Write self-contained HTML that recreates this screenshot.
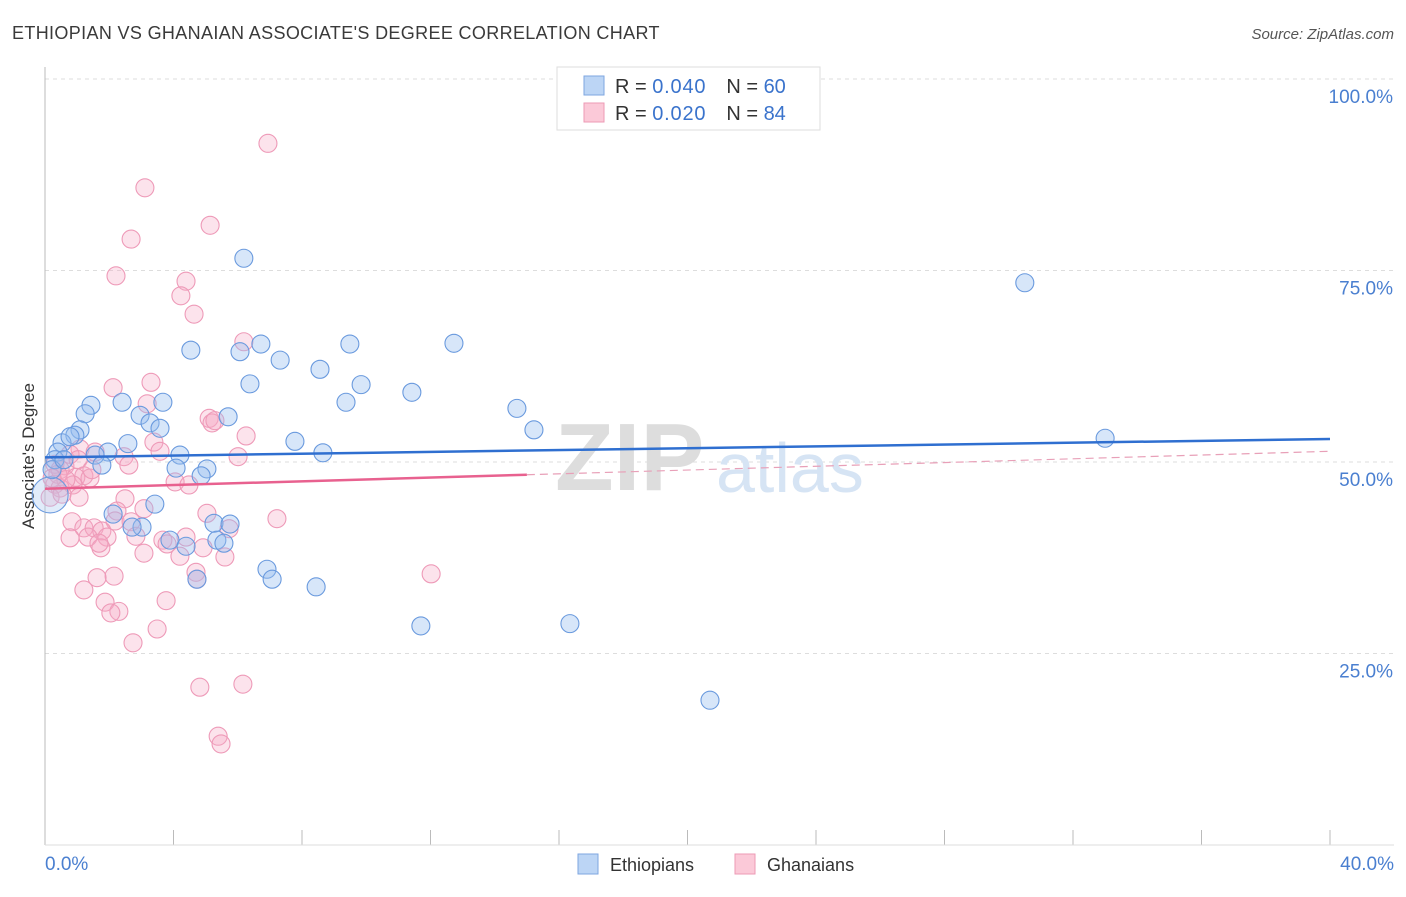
<!DOCTYPE html>
<html><head><meta charset="utf-8"><style>
body{margin:0;background:#fff;font-family:"Liberation Sans",sans-serif;}
svg text{font-family:"Liberation Sans",sans-serif;}
</style></head><body>
<svg id="chart" width="1406" height="892" viewBox="0 0 1406 892" xmlns="http://www.w3.org/2000/svg">
<text x="12" y="39" font-size="18" fill="#3a3a3a" letter-spacing="0.35">ETHIOPIAN VS GHANAIAN ASSOCIATE'S DEGREE CORRELATION CHART</text>
<text x="1394" y="39" font-size="15" fill="#555" font-style="italic" text-anchor="end">Source: ZipAtlas.com</text>
<g id="grid"></g>
<g>
<text x="555" y="490" font-size="96" font-family="Liberation Serif" fill="#ddd" font-weight="bold">ZIP</text>
<text x="716" y="492" font-size="70" fill="#d6e4f4">atlas</text>
</g>
<line x1="45" y1="67" x2="45" y2="845" stroke="#bbb"/>
<line x1="45" y1="845" x2="1394" y2="845" stroke="#ddd"/>
<text transform="translate(34,456) rotate(-90)" font-size="17" fill="#333" text-anchor="middle">Associate's Degree</text>
<text x="45" y="870" font-size="19" fill="#4a7fd0">0.0%</text>
<text x="1394" y="870" font-size="19" fill="#4a7fd0" text-anchor="end">40.0%</text>
<g id="points"></g>
<g id="trends"></g>
<g>
<rect x="557" y="67" width="263" height="63" fill="#fff" stroke="#ddd"/>
<rect x="584" y="76" width="20" height="19" fill="#bcd5f5" stroke="#7ea6e0"/>
<rect x="584" y="103" width="20" height="19" fill="#fbc9d8" stroke="#ec9ab5"/>
<text x="615" y="93" font-size="20" fill="#333">R = <tspan fill="#3a73cc" letter-spacing="0.8">0.040</tspan><tspan dx="20">N = </tspan><tspan fill="#3a73cc">60</tspan></text>
<text x="615" y="120" font-size="20" fill="#333">R = <tspan fill="#3a73cc" letter-spacing="0.8">0.020</tspan><tspan dx="20">N = </tspan><tspan fill="#3a73cc">84</tspan></text>
</g>
<g>
<rect x="578" y="854" width="20" height="20" fill="#bcd5f5" stroke="#7ea6e0"/>
<text x="610" y="871" font-size="18" fill="#333">Ethiopians</text>
<rect x="735" y="854" width="20" height="20" fill="#fbc9d8" stroke="#ec9ab5"/>
<text x="767" y="871" font-size="18" fill="#333">Ghanaians</text>
</g>
</svg>
<script>
const yTicks=[25,50,75,100];
const yTickLabels=["25.0%","50.0%","75.0%","100.0%"];
const xTicks=[0,4,8,12,16,20,24,28,32,36,40];
const ethX=[30.5,6.19,4.54,6.07,6.72,7.32,9.49,12.73,8.56,6.38,9.84,11.42,9.37,14.69,1.43,2.40,3.67,1.25,2.96,5.70,15.22,3.27,3.58,1.09,0.93,0.53,2.58,7.78,33.0,1.96,1.56,0.40,0.31,8.65,4.20,4.08,5.04,4.86,1.77,3.42,2.12,3.02,2.71,5.26,5.76,3.89,5.35,5.57,4.39,6.91,7.07,8.44,4.73,11.70,16.34,20.70,0.16,0.22,0.78,0.59];
const ethY=[73.4,76.6,64.6,64.4,65.4,63.3,65.4,65.5,62.1,60.2,60.1,59.1,57.8,57.0,57.4,57.8,57.8,56.3,56.1,55.9,54.2,55.1,54.4,54.2,53.5,52.5,52.4,52.7,53.1,51.3,50.9,51.3,50.3,51.2,50.9,49.2,49.1,48.2,49.6,44.5,43.2,41.5,41.5,42.0,41.9,39.8,39.8,39.4,39.0,36.0,34.7,33.7,34.7,28.6,28.9,18.9,45.7,49.0,53.3,50.3];
const ghaX=[6.94,3.11,5.14,2.68,2.21,4.39,4.23,4.64,6.19,2.12,3.30,3.18,5.11,5.20,5.29,3.39,3.58,6.26,1.09,1.56,2.46,2.61,0.62,0.31,0.47,6.01,1.21,0.96,0.87,1.40,0.31,0.47,4.05,4.48,0.16,1.06,0.53,2.49,2.24,5.04,7.22,0.84,2.18,2.68,1.21,1.53,1.77,0.78,1.34,1.93,2.83,3.67,3.80,4.92,1.74,4.20,5.60,3.08,4.70,4.73,2.15,1.62,12.02,1.21,3.77,1.87,2.30,2.05,3.49,2.74,4.82,6.16,5.39,5.48,0.78,0.40,0.65,1.03,1.46,0.22,1.68,3.08,5.73,4.39];
const ghaY=[91.6,85.8,80.9,79.1,74.3,73.6,71.7,69.3,65.7,59.7,60.4,57.6,55.7,55.1,55.4,52.6,51.4,53.4,51.7,51.3,50.7,49.6,49.5,49.7,49.0,50.7,48.2,48.0,47.0,47.9,47.1,46.6,47.4,47.0,45.4,45.4,45.8,45.2,43.6,43.3,42.6,42.2,42.3,42.2,41.4,41.4,41.0,40.1,40.2,40.2,40.3,39.8,39.3,38.8,38.8,37.7,37.6,38.1,35.6,34.7,35.1,34.9,35.4,33.3,31.9,31.7,30.5,30.3,28.2,26.4,20.6,21.0,14.2,13.2,51.0,48.4,47.7,50.3,49.0,47.9,39.4,43.9,41.3,40.2];
const ethTrend=[50.6,53.0];
const ghaTrend=[46.5,51.4];
const ghaSolidEnd=15;
const NS="http://www.w3.org/2000/svg";
const sx=v=>45+v/40*1285;
const sy=v=>845-v/100*766;
function mk(tag,attrs,parent){const e=document.createElementNS(NS,tag);for(const k in attrs)e.setAttribute(k,attrs[k]);parent.appendChild(e);return e;}
const grid=document.getElementById('grid');
yTicks.forEach((t,i)=>{
 const l=mk('line',{x1:45,x2:1394,y1:sy(t),y2:sy(t),stroke:'#ddd','stroke-dasharray':'4,4'},grid);
 
 
 const tx=mk('text',{x:1393,y:sy(t)+24,'font-size':19,fill:'#4a7fd0','text-anchor':'end'},grid);
 tx.textContent=yTickLabels[i];
 
 
});
xTicks.forEach(t=>{
 const l=mk('line',{x1:sx(t),x2:sx(t),y1:830,y2:845,stroke:'#bbb'},grid);
 
 
});
const pts=document.getElementById('points');
ghaX.forEach((x,i)=>{
 const c=mk('circle',{cx:sx(x),cy:sy(ghaY[i]),r:9,fill:'rgba(246,170,196,0.33)',stroke:'#ee9ab8','stroke-width':1.1},pts);
 
 
});
ethX.forEach((x,i)=>{
 const c=mk('circle',{cx:sx(x),cy:sy(ethY[i]),r:i==56?18:9,fill:i==56?'rgba(170,200,240,0.35)':'rgba(150,188,238,0.38)',stroke:'#6a9ade','stroke-width':1.1},pts);
 
 
});
const tr=document.getElementById('trends');
const gAt=x=>ghaTrend[0]+(ghaTrend[1]-ghaTrend[0])*x/40;
let l1=mk('line',{x1:sx(0),y1:sy(ethTrend[0]),x2:sx(40),y2:sy(ethTrend[1]),stroke:'#2f6fd0','stroke-width':2.5},tr);


let l2=mk('line',{x1:sx(0),y1:sy(gAt(0)),x2:sx(ghaSolidEnd),y2:sy(gAt(ghaSolidEnd)),stroke:'#e8618f','stroke-width':2.5},tr);


let l3=mk('line',{x1:sx(ghaSolidEnd),y1:sy(gAt(ghaSolidEnd)),x2:sx(40),y2:sy(gAt(40)),stroke:'#e8a0b8','stroke-width':1.2,'stroke-dasharray':'8,5'},tr);


</script>
</body></html>
